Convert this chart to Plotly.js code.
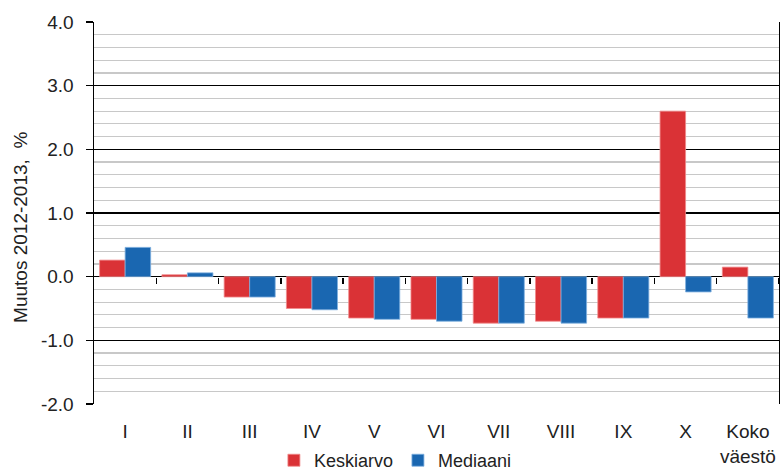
<!DOCTYPE html>
<html>
<head>
<meta charset="utf-8">
<script src="https://cdn.plot.ly/plotly-3.0.1.min.js"></script>
<style>html,body{margin:0;padding:0;background:#fff;}#chart{width:780px;height:471px;}</style>
</head>
<body>
<div id="chart"></div>
<script>
const categories = ["I","II","III","IV","V","VI","VII","VIII","IX","X","Koko<br>väestö"];
const keskiarvo = [0.26, 0.03, -0.32, -0.50, -0.65, -0.67, -0.73, -0.70, -0.65, 2.60, 0.15];
const mediaani  = [0.46, 0.06, -0.32, -0.52, -0.67, -0.70, -0.73, -0.73, -0.65, -0.24, -0.65];
const seriesNames = ["Keskiarvo", "Mediaani"];
const yTickVals = [-2, -1, 0, 1, 2, 3, 4];
const yTickText = ["-2.0", "-1.0", "0.0", "1.0", "2.0", "3.0", "4.0"];
const yTitle = "Muutos 2012-2013,  %";

const font = {family: "Liberation Sans, Arial, sans-serif", size: 19, color: "#222"};
const legendFont = {family: "Liberation Sans, Arial, sans-serif", size: 18, color: "#222"};
const boundaries = categories.map((c, i) => i + 0.5);

const traces = [
  {type: "bar", name: seriesNames[0], x: categories, y: keskiarvo,
   marker: {color: "#DA3236", line: {color: "#F08A8C", width: 0.8}}},
  {type: "bar", name: seriesNames[1], x: categories, y: mediaani,
   marker: {color: "#1A67B1", line: {color: "#7FB0E0", width: 0.8}}}
];

const layout = {
  width: 780, height: 471,
  margin: {l: 94, r: 1, t: 22, b: 67, autoexpand: false},
  paper_bgcolor: "#fff", plot_bgcolor: "#fff",
  font: font,
  barmode: "group", bargap: 0.18, bargroupgap: 0,
  showlegend: true,
  legend: {orientation: "h", x: 0.44, xanchor: "center", y: -0.148, yanchor: "middle",
           font: legendFont, itemwidth: 30, tracegroupgap: 0},
  xaxis: {type: "category", range: [-0.5, 10.5], showgrid: false, zeroline: false,
          showline: false, ticks: "", tickfont: font, ticklabelstandoff: 14, automargin: false},
  xaxis2: {type: "linear", overlaying: "x", anchor: "free", position: 2/6, side: "bottom",
           range: [-0.5, 10.5], tickmode: "array", tickvals: boundaries, ticks: "outside",
           ticklen: 6, tickcolor: "#000", tickwidth: 1.5, showticklabels: false,
           showgrid: false, zeroline: false, showline: false},
  yaxis: {range: [-2, 4], tickmode: "array", tickvals: yTickVals, ticktext: yTickText,
          ticks: "outside", ticklen: 7, tickcolor: "#000", tickwidth: 1.5,
          showline: true, linecolor: "#000", linewidth: 1.5, mirror: true,
          showgrid: true, gridcolor: "#000", gridwidth: 1.2,
          zeroline: true, zerolinecolor: "#000", zerolinewidth: 1.2,
          minor: {dtick: 0.2, showgrid: true, gridcolor: "#c8c8c8", gridwidth: 1.2},
          tickfont: font, ticklabelstandoff: 8, automargin: false},
  annotations: [{text: yTitle, xref: "paper", yref: "paper", x: 0, y: 0.461,
                 xshift: -73, textangle: -90, showarrow: false, font: font,
                 xanchor: "center", yanchor: "middle"}]
};

const dummy = {type: "scatter", x: [0], y: [0], xaxis: "x2", mode: "markers",
               marker: {opacity: 0}, showlegend: false, hoverinfo: "skip"};

Plotly.newPlot("chart", traces.concat([dummy]), layout, {staticPlot: true});
</script>
</body>
</html>
